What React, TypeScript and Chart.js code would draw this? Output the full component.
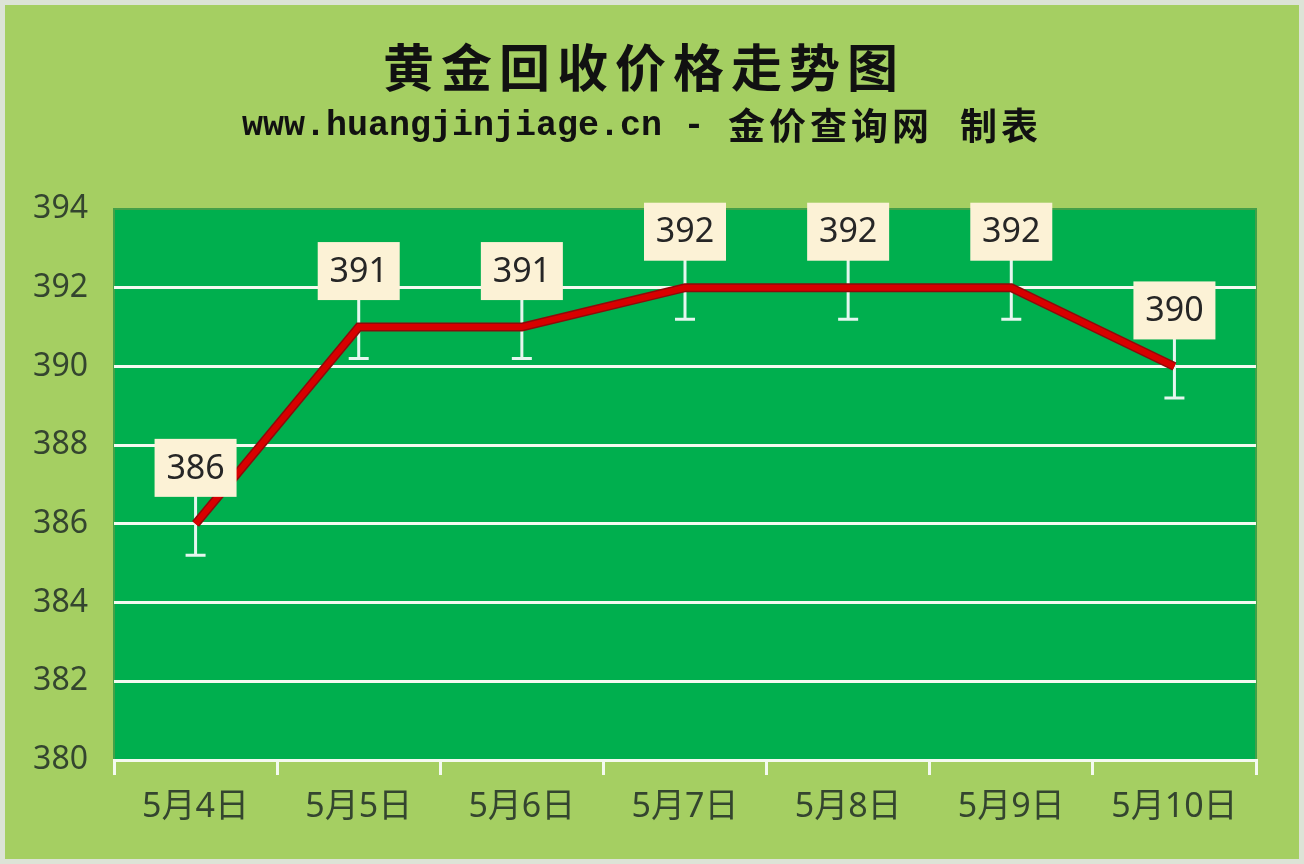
import { useEffect, useRef } from "react";
import { Chart, registerables, Plugin } from "chart.js";

Chart.register(...registerables);

const dates = ["5月4日", "5月5日", "5月6日", "5月7日", "5月8日", "5月9日", "5月10日"];
const prices = [386, 391, 391, 392, 392, 392, 390];
const yMin = 380;
const yMax = 394;
const yStep = 2;
const errorMargin = 0.8;

const chartTitle = "黄金回收价格走势图";
const subtitleUrl = "www.huangjinjiage.cn";
const subtitleSite = "金价查询网";
const subtitleMade = "制表";

const PAGE_BG = "#A5CF62";
const PLOT_BG = "#00AF4E";
const TEXT_DARK = "#34452F";

// background, outer frame, plot fill and the two title lines
const backdrop: Plugin<"line"> = {
  id: "backdrop",
  beforeDraw(chart) {
    const { ctx, width, height, chartArea } = chart;
    const c = ctx as any;
    ctx.save();
    ctx.fillStyle = PAGE_BG;
    ctx.fillRect(0, 0, width, height);
    ctx.strokeStyle = "#DCE3D6";
    ctx.lineWidth = 5;
    ctx.strokeRect(2.5, 2.5, width - 5, height - 5);

    ctx.fillStyle = PLOT_BG;
    ctx.fillRect(chartArea.left, chartArea.top, chartArea.width, chartArea.height);
    ctx.strokeStyle = "#43A048";
    ctx.lineWidth = 2;
    ctx.strokeRect(chartArea.left, chartArea.top, chartArea.width, chartArea.height);

    ctx.fillStyle = "#111111";
    ctx.textBaseline = "middle";
    ctx.textAlign = "center";
    ctx.font = "bold 51px 'Noto Sans CJK SC'";
    c.letterSpacing = "7px";
    ctx.fillText(chartTitle, 644, 68);

    // subtitle pieces
    ctx.textAlign = "left";
    c.letterSpacing = "0px";
    ctx.font = "bold 35px 'Liberation Mono'";
    ctx.fillText(subtitleUrl, 242, 126);
    ctx.textAlign = "center";
    ctx.fillText("-", 694, 126);
    ctx.textAlign = "left";
    ctx.font = "bold 37px 'Noto Sans CJK SC'";
    c.letterSpacing = "4px";
    ctx.fillText(subtitleSite, 728, 126);
    ctx.fillText(subtitleMade, 960, 126);
    c.letterSpacing = "0px";
    ctx.restore();
  },
};

// white error bars under the line
const errorBars: Plugin<"line"> = {
  id: "errorBars",
  beforeDatasetsDraw(chart) {
    const { ctx, scales } = chart;
    const meta = chart.getDatasetMeta(0);
    ctx.save();
    ctx.strokeStyle = "#E6F6EF";
    ctx.lineWidth = 3;
    meta.data.forEach((pt, i) => {
      const top = scales.y.getPixelForValue(prices[i] + errorMargin);
      const bottom = scales.y.getPixelForValue(prices[i] - errorMargin);
      ctx.beginPath();
      ctx.moveTo(pt.x, top);
      ctx.lineTo(pt.x, bottom);
      ctx.moveTo(pt.x - 10, top);
      ctx.lineTo(pt.x + 10, top);
      ctx.moveTo(pt.x - 10, bottom);
      ctx.lineTo(pt.x + 10, bottom);
      ctx.stroke();
    });
    ctx.restore();
  },
};

// cream value boxes above each point
const valueBoxes: Plugin<"line"> = {
  id: "valueBoxes",
  afterDatasetsDraw(chart) {
    const { ctx } = chart;
    const meta = chart.getDatasetMeta(0);
    ctx.save();
    ctx.font = "34px 'Noto Sans'";
    ctx.textAlign = "center";
    ctx.textBaseline = "middle";
    meta.data.forEach((pt, i) => {
      const cy = pt.y - 56;
      ctx.fillStyle = "#FCF2D6";
      ctx.fillRect(pt.x - 41, cy - 29, 82, 58);
      ctx.fillStyle = "#262626";
      ctx.fillText(String(prices[i]), pt.x, cy + 1);
    });
    ctx.restore();
  },
};

export default function App() {
  const canvasRef = useRef<HTMLCanvasElement>(null);
  const chartRef = useRef<Chart<"line"> | null>(null);

  useEffect(() => {
    if (!canvasRef.current) return;
    if (chartRef.current) chartRef.current.destroy();

    chartRef.current = new Chart(canvasRef.current, {
      type: "line",
      data: {
        labels: dates,
        datasets: [
          {
            label: "价格",
            data: prices,
            borderColor: "#D80000",
            borderWidth: 6,
            pointRadius: 0,
            tension: 0,
            order: 1,
          },
          {
            label: "outline",
            data: prices,
            borderColor: "#8E0A0A",
            borderWidth: 9,
            pointRadius: 0,
            tension: 0,
            order: 2,
          },
        ],
      },
      options: {
        responsive: true,
        maintainAspectRatio: false,
        animation: false,
        layout: { padding: { top: 209, right: 48, left: 0, bottom: 0 } },
        plugins: {
          legend: { display: false },
          tooltip: { enabled: false },
        },
        scales: {
          x: {
            offset: true,
            afterFit: (scale) => {
              scale.height = 104;
            },
            grid: {
              display: true,
              offset: true,
              drawOnChartArea: false,
              drawTicks: true,
              tickLength: 15,
              color: "#F4FAF0",
              lineWidth: 3,
            },
            border: { display: true, color: "#F4FAF0", width: 3 },
            ticks: {
              color: TEXT_DARK,
              padding: 12,
              font: { family: "'Noto Sans', 'Noto Sans CJK SC'", size: 34 },
            },
          },
          y: {
            min: yMin,
            max: yMax,
            afterFit: (scale) => {
              scale.width = 114;
            },
            grid: {
              drawTicks: false,
              lineWidth: 3,
              color: (c) => (c.tick && c.tick.value === yMax ? "rgba(0,0,0,0)" : "#F4FAF0"),
            },
            border: { display: false },
            ticks: {
              stepSize: yStep,
              padding: 26,
              color: TEXT_DARK,
              font: { family: "'Noto Sans'", size: 32 },
            },
          },
        },
      },
      plugins: [backdrop, errorBars, valueBoxes],
    });

    return () => {
      if (chartRef.current) {
        chartRef.current.destroy();
        chartRef.current = null;
      }
    };
  }, []);

  return (
    <div style={{ position: "absolute", left: 0, top: 0, width: 1304, height: 864 }}>
      <canvas ref={canvasRef} />
    </div>
  );
}
